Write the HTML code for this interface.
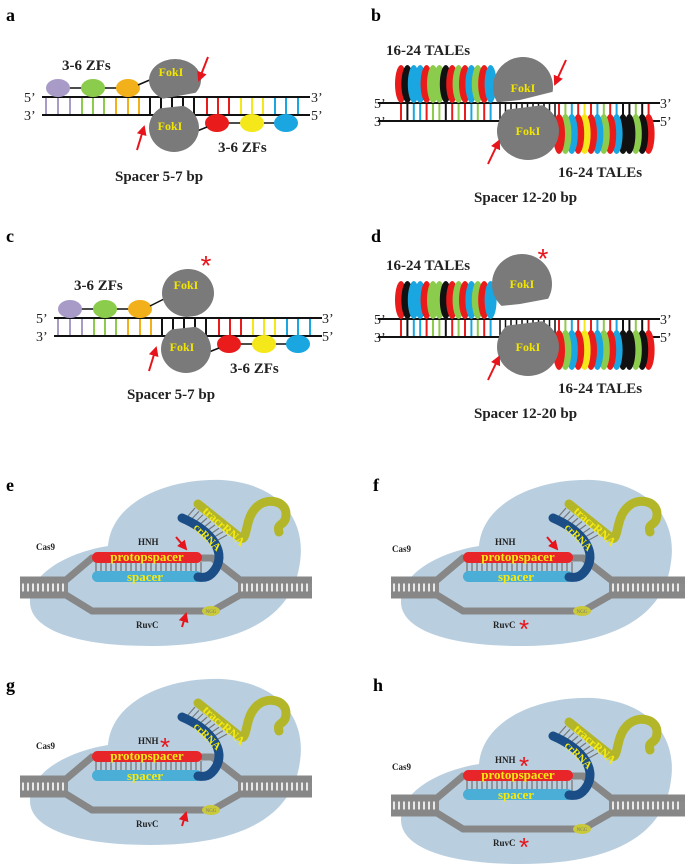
<!DOCTYPE html>
<html><head><meta charset="utf-8"><style>
html,body{margin:0;padding:0;background:#fff;}
svg{display:block;font-family:"Liberation Serif",serif;font-weight:bold;}
</style></head><body>
<svg id="s" width="685" height="867" viewBox="0 0 685 867" xmlns="http://www.w3.org/2000/svg">
<defs>
<marker id="ah" viewBox="0 0 10 10" refX="8" refY="5" markerWidth="5" markerHeight="5" orient="auto"><path d="M0,0 L10,5 L0,10 z" fill="#e8141c"/></marker>
</defs>
<g font-size="18">
<text x="6" y="21">a</text><text x="371" y="21">b</text>
<text x="6" y="242">c</text><text x="371" y="242">d</text>
<text x="6" y="491">e</text><text x="373" y="491">f</text>
<text x="6" y="691">g</text><text x="373" y="691">h</text>
</g>
<g font-size="15" fill="#222">
<text x="62" y="70">3-6 ZFs</text><text x="218" y="152">3-6 ZFs</text>
<text x="115" y="181">Spacer 5-7 bp</text>
<text x="74" y="290">3-6 ZFs</text><text x="230" y="373">3-6 ZFs</text>
<text x="127" y="399">Spacer 5-7 bp</text>
<text x="386" y="55">16-24 TALEs</text><text x="558" y="177">16-24 TALEs</text>
<text x="474" y="202">Spacer 12-20 bp</text>
<text x="386" y="270">16-24 TALEs</text><text x="558" y="393">16-24 TALEs</text>
<text x="474" y="418">Spacer 12-20 bp</text>
</g>
<g font-size="14" fill="#222" font-weight="normal">
<text x="24" y="102">5’</text><text x="24" y="120">3’</text><text x="311" y="102">3’</text><text x="311" y="120">5’</text>
<text x="36" y="323">5’</text><text x="36" y="341">3’</text><text x="322" y="323">3’</text><text x="322" y="341">5’</text>
<text x="374" y="108">5’</text><text x="374" y="126">3’</text><text x="660" y="108">3’</text><text x="660" y="126">5’</text>
<text x="374" y="324">5’</text><text x="374" y="342">3’</text><text x="660" y="324">3’</text><text x="660" y="342">5’</text>
</g>
<g id="dyn"></g>
</svg>
<script>
var NS="http://www.w3.org/2000/svg",D=document.getElementById("dyn");
function el(t,a,p,txt){var e=document.createElementNS(NS,t);for(var k in a)e.setAttribute(k,a[k]);if(txt)e.textContent=txt;(p||D).appendChild(e);return e;}
function g(dx,dy){return el("g",{transform:"translate("+dx+","+dy+")"});}
function arrow(p,x1,y1,x2,y2){el("line",{x1:x1,y1:y1,x2:x2,y2:y2,stroke:"#e8141c","stroke-width":2,"marker-end":"url(#ah)"},p);}
function star(p,x,y,s){el("text",{x:x,y:y,fill:"#e8141c","font-size":s||28,"font-family":"Liberation Sans,sans-serif","font-weight":"normal","text-anchor":"middle"},p,"*");}
var cid=0;
function fok(p,cx,cy,rx,ry,clip,tx,ty){cid++;var c=el("clipPath",{id:"c"+cid},p);el("polygon",{points:clip},c);
 el("ellipse",{cx:cx,cy:cy,rx:rx,ry:ry,fill:"#7a7a7a","clip-path":"url(#c"+cid+")"},p);
 el("text",{x:tx,y:ty,fill:"#f2e600","font-size":12,"text-anchor":"middle"},p,"FokI");}
function zf(dx,dy,lift){var p=g(dx,dy);
 var cols=["#a99bc8","#a99bc8","#a99bc8","#8ccc4c","#8ccc4c","#8ccc4c","#f2b01a","#f2b01a","#f2b01a","#111","#111","#111","#111","#111","#ea1b1b","#ea1b1b","#ea1b1b","#f5e81a","#f5e81a","#f5e81a","#1aa6e0","#1aa6e0","#1aa6e0"];
 var xs=[46,58,70,82,93,104,116,128,139,150,161,172,183,194,207,218,229,241,252,263,275,286,298];
 xs.forEach(function(x,i){el("line",{x1:x,y1:97,x2:x,y2:115,stroke:cols[i],"stroke-width":2},p);});
 el("line",{x1:42,y1:97,x2:310,y2:97,stroke:"#111","stroke-width":2},p);
 el("line",{x1:42,y1:115,x2:310,y2:115,stroke:"#111","stroke-width":2},p);
 el("line",{x1:58,y1:88,x2:128,y2:88,stroke:"#111","stroke-width":1.5},p);
 el("line",{x1:217,y1:123,x2:286,y2:123,stroke:"#111","stroke-width":1.5},p);
 [["#a99bc8",58],["#8ccc4c",93],["#f2b01a",128]].forEach(function(c){el("ellipse",{cx:c[1],cy:88,rx:12,ry:9,fill:c[0]},p);});
 [["#ea1b1b",217],["#f5e81a",252],["#1aa6e0",286]].forEach(function(c){el("ellipse",{cx:c[1],cy:123,rx:12,ry:9,fill:c[0]},p);});
 if(!lift){el("line",{x1:138,y1:85,x2:152,y2:79,stroke:"#111","stroke-width":1.5},p);
  fok(p,175,80,26,21,"140,50 215,50 215,88 200,92 150,101 140,101",171,76);}
 else{el("line",{x1:138,y1:85,x2:152,y2:78,stroke:"#111","stroke-width":1.5},p);
  fok(p,176,72,26,24,"140,40 215,40 215,90 200,93 150,99 140,99",174,68);star(p,194,54);}
 el("line",{x1:192,y1:133,x2:207,y2:127,stroke:"#111","stroke-width":1.5},p);
 fok(p,174,128,25,24,"145,110 200,104 210,104 210,160 145,160",170,130);
 if(!lift)arrow(p,208,57,199,80);
 arrow(p,137,150,144,127);
}
zf(0,0,false);zf(12,221,true);
function tale(dx,dy,lift){var p=g(dx,dy);
 var C={r:"#ea1b1b",k:"#111",b:"#1aa6e0",g:"#8ccc4c",y:"#f5e81a"};
 var top="rkbbrggkrgrbgrb".split(""),bot="rgbryrbgrbkkgkr".split("");
 var i,x;
 for(i=0;i<top.length;i++){x=401+i*6.4;el("line",{x1:x,y1:103,x2:x,y2:121,stroke:C[top[i]],"stroke-width":2},p);}
 for(i=0;i<11;i++){x=500+i*5.5;el("line",{x1:x,y1:103,x2:x,y2:121,stroke:"#111","stroke-width":1.5},p);}
 for(i=0;i<bot.length;i++){x=559+i*6.4;el("line",{x1:x,y1:103,x2:x,y2:121,stroke:C[bot[i]],"stroke-width":2},p);}
 el("line",{x1:378,y1:103,x2:660,y2:103,stroke:"#111","stroke-width":2},p);
 el("line",{x1:378,y1:121,x2:660,y2:121,stroke:"#111","stroke-width":2},p);
 for(i=0;i<top.length;i++){x=401+i*6.4;el("ellipse",{cx:x,cy:84,rx:6,ry:19,fill:C[top[i]]},p);}
 for(i=bot.length-1;i>=0;i--){x=559+i*6.4;el("ellipse",{cx:x,cy:134,rx:6,ry:20,fill:C[bot[i]]},p);}
 if(!lift){fok(p,523,87,30,30,"480,50 570,50 570,88 552,92 520,100 480,104",523,92);arrow(p,566,60,555,84);}
 else{fok(p,522,68,30,30,"480,30 570,30 570,78 552,82 520,88 480,92",522,72);star(p,543,52);}
 fok(p,528,131,31,29,"480,113 520,108 560,103 570,103 570,170 480,170",528,135);
 arrow(p,488,164,499,141);
}
tale(0,0,false);tale(0,216,true);
function cas(dx,dy,top,bot,wide){var p=g(dx,dy);
 var R=wide?314:312;
 el("path",{d:"M30,602 C30,572 70,552 108,546 C112,500 170,478 222,480 C282,484 306,522 300,562 C294,612 250,646 150,646 C72,646 30,628 30,602 Z",fill:"#b9cfe0"},p);
 el("rect",{x:20,y:580,width:48,height:15,fill:"#8a8a8a"},p);
 el("rect",{x:238,y:580,width:R-238,height:15,fill:"#8a8a8a"},p);
 for(var x=23;x<66;x+=5)el("line",{x1:x,y1:583,x2:x,y2:592,stroke:"#fff","stroke-width":1.6},p);
 for(x=242;x<R-2;x+=5)el("line",{x1:x,y1:583,x2:x,y2:592,stroke:"#fff","stroke-width":1.6},p);
 el("path",{d:"M20,580 L66,580 L92,558 L212,558 L240,580 L"+R+",580",fill:"none",stroke:"#878787","stroke-width":7},p);
 el("path",{d:"M20,595 L66,595 L92,611 L212,611 L240,595 L"+R+",595",fill:"none",stroke:"#878787","stroke-width":7},p);
 for(x=96;x<202;x+=5)el("line",{x1:x,y1:562,x2:x,y2:573,stroke:"#777","stroke-width":1.3},p);
 el("rect",{x:92,y:552,width:110,height:11,rx:5.5,fill:"#e8262a"},p);
 el("rect",{x:92,y:571,width:110,height:11,rx:5.5,fill:"#4aaed6"},p);
 for(var i=0;i<9;i++){var t=i/8;el("line",{x1:188+t*30,y1:516+t*24,x2:195+t*32,y2:508+t*27,stroke:"#777","stroke-width":1.2},p);}
 el("path",{d:"M198,504 L238,536 C248,546 244,522 254,510 C264,496 286,500 286,514 C286,527 276,522 279,532",fill:"none",stroke:"#b4b62a","stroke-width":9,"stroke-linecap":"round"},p);
 el("path",{d:"M182,518 C210,530 226,550 216,568 C210,578 204,578 198,577",fill:"none",stroke:"#1b4d86","stroke-width":9,"stroke-linecap":"round"},p);
 el("text",{x:0,y:0,fill:"#f5ea10","font-size":12,transform:"translate(202,512) rotate(42)"},p,"tracrRNA");
 el("text",{x:0,y:0,fill:"#f5ea10","font-size":11,transform:"translate(193,528) rotate(45)"},p,"crRNA");
 el("text",{x:147,y:561,fill:"#f5ea10","font-size":13,"text-anchor":"middle"},p,"protopspacer");
 el("text",{x:145,y:581,fill:"#f5ea10","font-size":13,"text-anchor":"middle"},p,"spacer");
 el("ellipse",{cx:211,cy:611,rx:9,ry:5,fill:"#c9c93a"},p);
 el("text",{x:211,y:613,fill:"#777","font-size":5,"text-anchor":"middle","font-weight":"normal"},p,"NGG");
 el("text",{x:wide?21:36,y:wide?552:550,"font-size":9,fill:"#222"},p,"Cas9");
 el("text",{x:wide?124:138,y:545,"font-size":9,fill:"#222"},p,"HNH");
 el("text",{x:wide?122:136,y:628,"font-size":9,fill:"#222"},p,"RuvC");
 if(top)arrow(p,176,537,186,549);else star(p,wide?153:165,557,26);
 if(bot)arrow(p,182,627,186,614);else star(p,153,638,26);
}
cas(0,0,true,true);cas(371,0,true,false,true);cas(0,199,false,true);cas(371,218,false,false,true);
</script>
</body></html>
